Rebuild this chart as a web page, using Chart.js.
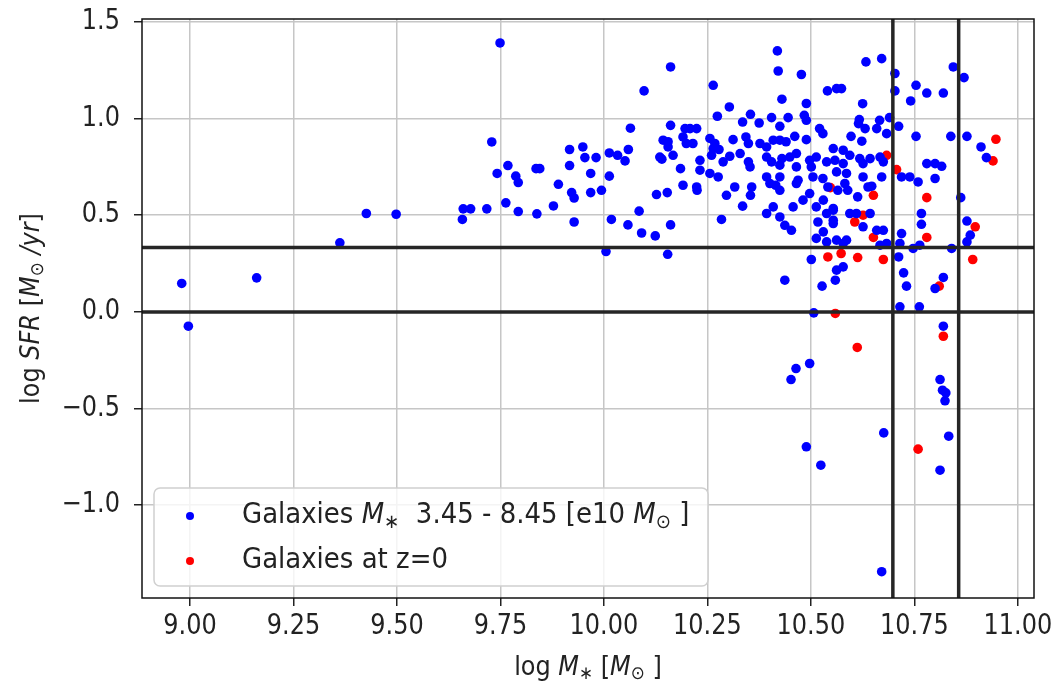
<!DOCTYPE html>
<html>
<head>
<meta charset="utf-8">
<script src="https://cdn.jsdelivr.net/npm/chart.js@4.4.1/dist/chart.umd.min.js"></script>
<style>
  body { margin: 0; background: #fff; }
  canvas { display: block; }
</style>
</head>
<body>
<canvas id="myChart" width="1057" height="686"></canvas>
<script>
// galaxies in the mass bin (blue)
const blueMass = [
  8.980, 8.996, 9.161, 9.362, 9.426, 9.498,
  9.749, 10.161, 10.097, 10.064, 10.161, 9.729, 9.917, 9.949, 9.954, 9.981, 10.013, 10.033, 10.059, 10.051,
  9.768, 9.742, 9.787, 9.793, 9.836, 9.845, 9.917, 9.968, 10.013, 9.890, 9.922, 9.928, 9.968, 9.994, 10.127, 10.153,
  9.660, 9.678, 9.717, 9.763, 9.793, 9.838, 9.878, 9.658, 9.928, 10.018, 10.058, 10.085, 10.091, 10.124, 10.161,
  10.005, 10.154, 10.135, 10.140, 10.155, 10.155, 10.167,
  10.264, 10.419, 10.421, 10.477, 10.430, 10.303, 10.489, 10.540, 10.562, 10.274, 10.354, 10.335, 10.405, 10.445,
  10.484, 10.489, 10.425, 10.375, 10.196, 10.208, 10.224, 10.521, 10.529, 10.143, 10.191, 10.199, 10.215, 10.256,
  10.268, 10.264, 10.278, 10.312, 10.343, 10.349, 10.377, 10.393, 10.409, 10.425, 10.440, 10.461, 10.489, 10.554,
  10.558, 10.232, 10.260, 10.288, 10.304, 10.329, 10.349, 10.393, 10.405, 10.430, 10.449, 10.465, 10.497, 10.513,
  10.538, 10.185, 10.232, 10.256, 10.276, 10.353, 10.393, 10.425, 10.425, 10.465, 10.469, 10.501, 10.505, 10.529,
  10.191, 10.224, 10.316, 10.357, 10.415, 10.465,
  10.225, 10.296, 10.354, 10.335, 10.284, 10.393, 10.409, 10.425, 10.437, 10.453, 10.401, 10.425, 10.457, 10.481,
  10.497, 10.513, 10.530, 10.538, 10.554, 10.517, 10.530, 10.554, 10.513, 10.538, 10.562, 10.501, 10.437, 10.527,
  10.559, 10.507,
  10.633, 10.671, 10.703, 10.703, 10.754, 10.780, 10.820, 10.741, 10.844, 10.870, 10.574, 10.625, 10.617, 10.615,
  10.631, 10.659, 10.666, 10.690, 10.712, 10.683, 10.597, 10.623, 10.754, 10.838, 10.877, 10.911, 10.924, 10.578,
  10.594, 10.578, 10.618, 10.626, 10.643, 10.667, 10.675, 10.562, 10.586, 10.626, 10.671, 10.719, 10.739, 10.759,
  10.800, 10.582, 10.647, 10.780, 10.800, 10.816,
  10.862, 10.541, 10.565, 10.589, 10.613, 10.638, 10.554, 10.554, 10.594, 10.610, 10.643, 10.626, 10.659, 10.675,
  10.586, 10.578, 10.667, 10.683, 10.719, 10.715, 10.747, 10.763, 10.840, 10.767, 10.767, 10.877, 10.885, 10.877,
  10.712, 10.562, 10.578, 10.724, 10.731, 10.820, 10.800, 10.715, 10.762, 10.820,
  10.497, 10.464, 10.452, 10.812, 10.818, 10.826, 10.824, 10.676, 10.833, 10.489, 10.524, 10.812, 10.671
];
const blueSfr = [
  0.147, -0.074, 0.176, 0.357, 0.509, 0.505,
  1.391, 1.267, 1.143, 0.950, 0.965, 0.879, 0.840, 0.853, 0.798, 0.798, 0.822, 0.810, 0.840, 0.781,
  0.757, 0.716, 0.702, 0.669, 0.741, 0.741, 0.757, 0.716, 0.702, 0.660, 0.617, 0.589, 0.617, 0.629, 0.607, 0.617,
  0.533, 0.533, 0.533, 0.564, 0.519, 0.507, 0.548, 0.478, 0.465, 0.478, 0.450, 0.521, 0.408, 0.393, 0.450,
  0.312, 0.298, 0.801, 0.790, 0.853, 0.880, 0.810,
  1.172, 1.350, 1.246, 1.228, 1.100, 1.060, 1.078, 1.143, 1.155, 1.012, 1.022, 0.982, 1.005, 1.005,
  1.017, 0.991, 0.960, 0.977, 0.948, 0.948, 0.948, 0.948, 0.922, 0.888, 0.905, 0.871, 0.871, 0.897,
  0.871, 0.845, 0.840, 0.891, 0.905, 0.871, 0.871, 0.853, 0.888, 0.888, 0.880, 0.908, 0.891, 0.845,
  0.784, 0.784, 0.810, 0.776, 0.805, 0.819, 0.776, 0.801, 0.776, 0.793, 0.801, 0.819, 0.784, 0.801,
  0.776, 0.741, 0.733, 0.716, 0.698, 0.750, 0.698, 0.759, 0.698, 0.750, 0.681, 0.750, 0.698, 0.690,
  0.655, 0.646, 0.646, 0.646, 0.655, 0.664,
  0.629, 0.603, 0.603, 0.547, 0.478, 0.509, 0.543, 0.491, 0.448, 0.422, 0.664, 0.629, 0.543, 0.578,
  0.612, 0.543, 0.578, 0.509, 0.535, 0.465, 0.414, 0.457, 0.380, 0.362, 0.371, 0.271, 0.164, 0.133,
  0.164, -0.005,
  1.293, 1.310, 1.233, 1.143, 1.172, 1.132, 1.132, 1.091, 1.267, 1.212, 1.155, 1.077, 0.995, 0.974,
  0.948, 0.948, 0.991, 1.005, 0.960, 0.922, 0.908, 0.883, 0.908, 0.908, 0.908, 0.853, 0.798, 0.836,
  0.810, 0.767, 0.793, 0.767, 0.793, 0.801, 0.776, 0.724, 0.716, 0.698, 0.698, 0.698, 0.698, 0.672,
  0.690, 0.664, 0.650, 0.767, 0.767, 0.753,
  0.591, 0.646, 0.629, 0.629, 0.595, 0.646, 0.526, 0.474, 0.509, 0.509, 0.509, 0.440, 0.422, 0.422,
  0.371, 0.354, 0.345, 0.354, 0.405, 0.354, 0.328, 0.345, 0.328, 0.509, 0.453, 0.470, 0.397, 0.362,
  0.284, 0.216, 0.233, 0.202, 0.133, 0.178, 0.121, 0.026, 0.026, -0.074,
  -0.267, -0.293, -0.350, -0.350, -0.405, -0.419, -0.460, -0.626, -0.643, -0.698, -0.793, -0.819, -1.344
];
// galaxies at z=0 (red)
const redMass = [
  10.547, 10.541, 10.559, 10.683, 10.707, 10.780, 10.651, 10.626, 10.606, 10.651, 10.780,
  10.897, 10.891, 10.573, 10.613, 10.675, 10.810, 10.820, 10.612, 10.759, 10.947, 10.940
];
const redSfr = [
  0.643, 0.284, -0.008, 0.810, 0.736, 0.591, 0.603, 0.500, 0.465, 0.385, 0.385,
  0.440, 0.271, 0.302, 0.281, 0.271, 0.133, -0.126, -0.184, -0.710, 0.893, 0.781
];

const xTicks = [9.00, 9.25, 9.50, 9.75, 10.00, 10.25, 10.50, 10.75, 11.00];
const yTicks = [-1.0, -0.5, 0.0, 0.5, 1.0, 1.5];
const xRange = [8.884, 11.039];
const yRange = [-1.48, 1.515];
// cut lines
const sfrCuts = [0.333, 0.0];
const massCuts = [10.698, 10.857];

const legendLabels = [
  [{t: 'Galaxies '}, {t: 'M', i: true}, {t: '\u2217', s: true}, {t: '  3.45 - 8.45 [e10 '}, {t: 'M', i: true}, {t: '\u2299', s: true}, {t: ' ]'}],
  [{t: 'Galaxies at z=0'}]
];
const xTitle = [{t: 'log '}, {t: 'M', i: true}, {t: '\u2217', s: true}, {t: ' ['}, {t: 'M', i: true}, {t: '\u2299', s: true}, {t: ' ]'}];
const yTitle = [{t: 'log '}, {t: 'SFR', i: true}, {t: ' ['}, {t: 'M', i: true}, {t: '\u2299', s: true}, {t: ' /yr', i: true}, {t: ']'}];

const FONT = '"DejaVu Sans", sans-serif';
const TEXT = '#222222';

function segFont(seg, size) {
  const sz = seg.s ? size * 0.7 : size;
  return (seg.i ? 'italic ' : '') + sz + 'px ' + FONT;
}

// draws text made of plain / italic / subscript pieces
function drawRich(ctx, segs, x, y, size, align, sy) {
  ctx.save();
  ctx.translate(x, y);
  ctx.scale(1, sy || 1);
  ctx.textBaseline = 'middle';
  ctx.textAlign = 'left';
  ctx.fillStyle = TEXT;
  let w = 0;
  segs.forEach(seg => { ctx.font = segFont(seg, size); w += ctx.measureText(seg.t).width; });
  let cx = align === 'center' ? -w / 2 : align === 'right' ? -w : 0;
  segs.forEach(seg => {
    ctx.font = segFont(seg, size);
    ctx.fillText(seg.t, cx, seg.s ? size * 0.25 : 0);
    cx += ctx.measureText(seg.t).width;
  });
  ctx.restore();
}

const decor = {
  id: 'decor',
  afterDatasetsDraw(chart) {
    const {ctx, chartArea: a, scales: {x, y}} = chart;
    ctx.save();
    ctx.strokeStyle = '#262626';
    ctx.lineWidth = 3.5;
    sfrCuts.forEach(v => {
      const py = y.getPixelForValue(v);
      ctx.beginPath(); ctx.moveTo(a.left, py); ctx.lineTo(a.right, py); ctx.stroke();
    });
    massCuts.forEach(v => {
      const px = x.getPixelForValue(v);
      ctx.beginPath(); ctx.moveTo(px, a.top); ctx.lineTo(px, a.bottom); ctx.stroke();
    });
    ctx.strokeStyle = '#111';
    ctx.lineWidth = 1.5;
    ctx.strokeRect(a.left, a.top, a.right - a.left, a.bottom - a.top);
    ctx.restore();
  },
  afterDraw(chart) {
    const {ctx, chartArea: a, scales: {x, y}} = chart;
    // tick labels
    x.ticks.forEach(t => {
      drawRich(ctx, [{t: t.value.toFixed(2)}], x.getPixelForValue(t.value), 627, 24, 'center', 1.15);
    });
    y.ticks.forEach(t => {
      const s = t.value.toFixed(1).replace('-', '\u2212');
      drawRich(ctx, [{t: s}], 120, y.getPixelForValue(t.value), 24, 'right', 1.15);
    });
    // axis titles
    drawRich(ctx, xTitle, (a.left + a.right) / 2, 668, 24, 'center', 1.1);
    ctx.save();
    ctx.translate(32, (a.top + a.bottom) / 2);
    ctx.rotate(-Math.PI / 2);
    drawRich(ctx, yTitle, 0, 0, 24, 'center', 1.1);
    ctx.restore();
    // legend
    ctx.save();
    ctx.beginPath();
    ctx.roundRect(154, 488, 554, 98, 6);
    ctx.fillStyle = 'rgba(255,255,255,0.8)';
    ctx.fill();
    ctx.strokeStyle = '#d0d0d0';
    ctx.lineWidth = 1.5;
    ctx.stroke();
    chart.data.datasets.forEach((ds, i) => {
      const ly = 516 + i * 45;
      ctx.beginPath();
      ctx.arc(190, ly, 4, 0, Math.PI * 2);
      ctx.fillStyle = ds.backgroundColor;
      ctx.fill();
      drawRich(ctx, legendLabels[i], 242, ly, 26, 'left', 1.08);
    });
    ctx.restore();
  }
};

const ctx = document.getElementById('myChart');
new Chart(ctx, {
  type: 'scatter',
  data: {
    datasets: [{
      label: 'Galaxies M* 3.45 - 8.45 [e10 M_sun]',
      data: blueMass.map((m, i) => ({x: m, y: blueSfr[i]})),
      backgroundColor: '#0000ff',
      pointRadius: 4.8,
      borderWidth: 0
    }, {
      label: 'Galaxies at z=0',
      data: redMass.map((m, i) => ({x: m, y: redSfr[i]})),
      backgroundColor: '#ff0000',
      pointRadius: 4.8,
      borderWidth: 0
    }]
  },
  options: {
    responsive: false,
    animation: false,
    events: [],
    layout: { padding: { top: 19, right: 23, left: 0, bottom: 0 } },
    plugins: { legend: { display: false }, tooltip: { enabled: false } },
    scales: {
      x: {
        type: 'linear',
        min: xRange[0],
        max: xRange[1],
        afterBuildTicks: s => { s.ticks = xTicks.map(v => ({value: v})); },
        afterFit: s => { s.height = 88; },
        ticks: { display: false },
        border: { display: false },
        grid: { color: '#c6c6c6', lineWidth: 1.5, tickLength: 8, tickColor: '#222', tickWidth: 1.5 }
      },
      y: {
        type: 'linear',
        min: yRange[0],
        max: yRange[1],
        afterBuildTicks: s => { s.ticks = yTicks.map(v => ({value: v})); },
        afterFit: s => { s.width = 142; },
        ticks: { display: false },
        border: { display: false },
        grid: { color: '#c6c6c6', lineWidth: 1.5, tickLength: 8, tickColor: '#222', tickWidth: 1.5 }
      }
    }
  },
  plugins: [decor]
});
</script>
</body>
</html>
